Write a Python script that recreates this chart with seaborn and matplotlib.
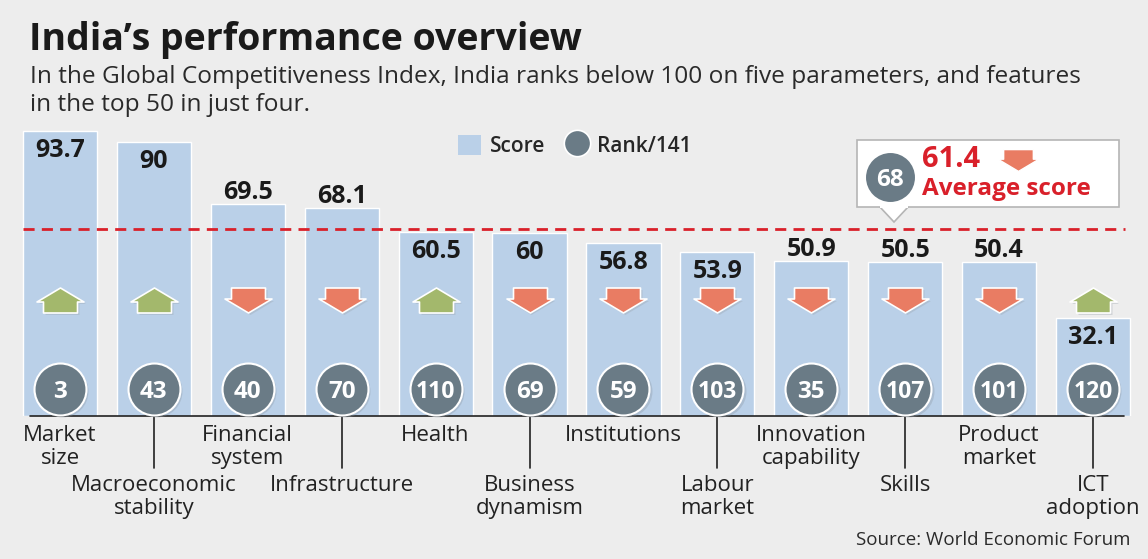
import numpy as np
import seaborn as sns
import matplotlib.pyplot as plt
from matplotlib.path import Path
from matplotlib.patches import Rectangle, Polygon
from matplotlib.lines import Line2D
from matplotlib.patches import Patch

# data
categories = ['Market\nsize', 'Macroeconomic\nstability', 'Financial\nsystem', 'Infrastructure',
              'Health', 'Business\ndynamism', 'Institutions', 'Labour\nmarket',
              'Innovation\ncapability', 'Skills', 'Product\nmarket', 'ICT\nadoption']
scores = [93.7, 90, 69.5, 68.1, 60.5, 60, 56.8, 53.9, 50.9, 50.5, 50.4, 32.1]
ranks = [3, 43, 40, 70, 110, 69, 59, 103, 35, 107, 101, 120]
trend = ['up', 'up', 'down', 'down', 'up', 'down', 'down', 'down', 'down', 'down', 'down', 'up']
avg_score = 61.4
avg_rank = 68
label_inside = [True, True, False, False, True, True, True, True, False, False, False, True]

BG = '#ededed'
BLUE = '#bad0e8'
SLATE = '#6a7b86'
GREEN = '#a3b86c'
ORANGE = '#e97c63'
RED = '#d9202a'

sns.set_theme(style='white')
plt.rcParams['font.family'] = ['Open Sans', 'DejaVu Sans']

W, H = 1148, 559
fig = plt.figure(figsize=(W / 100, H / 100), dpi=100, facecolor=BG)

base_px = 415.5   # baseline, px from top
ppu = 3.04        # px per score unit
ymax = 97
ax = fig.add_axes([13 / W, (H - base_px) / H, 1127 / W, ymax * ppu / H])
ax.set_facecolor('none')

sns.barplot(x=list(range(len(scores))), y=scores, color=BLUE, saturation=1,
            width=0.79, ax=ax, zorder=1)
ax.set_xlim(-0.5, 11.5)
ax.set_ylim(0, ymax)
ax.set_xticks([])
ax.set_yticks([])
ax.set_xlabel('')
ax.set_ylabel('')
sns.despine(ax=ax, left=True, bottom=True)


def u(px):
    return px / ppu


xs = np.arange(len(scores))

# baseline and average line
ax.plot([-0.32, 11.33], [0, 0], color='#222222', lw=1.2, clip_on=False, zorder=2)
ax.hlines(avg_score, -0.39, 11.34, colors=RED, lw=2, linestyles=(0, (4, 2.6)), zorder=2)

# score labels
for x, s, inside in zip(xs, scores, label_inside):
    y = s - u(16.5) if inside else s + u(14.5)
    ax.text(x, y, f'{s:g}', ha='center', va='center_baseline', fontsize=18,
            fontweight='bold', color='#1a1a1a', zorder=4)

# arrows
up_path = Path([(0, 12.5), (23.5, -1.5), (17, -1.5), (17, -12.5), (-17, -12.5),
                (-17, -1.5), (-23.5, -1.5), (0, 12.5)], closed=True)
down_path = Path([(x, -y) for x, y in up_path.vertices], closed=True)
arrow_s = (47 * 0.72) ** 2
for direction, path, col in [('up', up_path, GREEN), ('down', down_path, ORANGE)]:
    idx = [i for i, t in enumerate(trend) if t == direction]
    ax.scatter(xs[idx] + 0.02, [u(base_px - 302)] * len(idx), marker=path, s=arrow_s,
               color='#9aa3ad', alpha=0.35, linewidths=0, zorder=3)
    ax.scatter(xs[idx], [u(base_px - 300)] * len(idx), marker=path, s=arrow_s,
               color=col, edgecolors='white', linewidths=1.2, zorder=3)

# rank circles
circ_y = u(base_px - 388.5)
ax.scatter(xs + 0.025, [circ_y - u(2)] * len(xs), s=1400, color='#8d99a4', alpha=0.35,
           linewidths=0, zorder=3, clip_on=False)
ax.scatter(xs, [circ_y] * len(xs), s=1400, color=SLATE, edgecolors='white',
           linewidths=1.5, zorder=4, clip_on=False)
for x, r in zip(xs, ranks):
    ax.text(x, circ_y, str(r), ha='center', va='center_baseline', color='white',
            fontsize=16.5 if r >= 100 else 17.5, fontweight='bold', zorder=5)

# category labels with leader lines
for i, lab in enumerate(categories):
    lines = lab.split('\n')
    if i % 2 == 1:
        ax.plot([i, i], [0, -u(52.5)], color='#222222', lw=1.2, clip_on=False)
        b0 = 491
    else:
        b0 = 441
    for k, line in enumerate(lines):
        ax.text(i, -u(b0 + 23 * k - base_px), line, ha='center', va='baseline',
                fontsize=16, color='#222222', clip_on=False)

# legend
handles = [Patch(facecolor=BLUE, edgecolor='none'),
           Line2D([], [], marker='o', ls='', markersize=19, markerfacecolor=SLATE,
                  markeredgecolor='white', markeredgewidth=1.2)]
fig.legend(handles, ['Score', 'Rank/141'], loc='center', ncol=2, frameon=False,
           bbox_to_anchor=(575 / W, 1 - 146 / H), handlelength=1.1, handleheight=1.1,
           handletextpad=0.4, columnspacing=1.0,
           prop={'size': 15, 'weight': 'semibold'})

# overlay in pixel coordinates for header and callout
ov = fig.add_axes([0, 0, 1, 1], zorder=10)
ov.set_xlim(0, W)
ov.set_ylim(H, 0)
ov.axis('off')

ov.text(29, 50, 'India\u2019s performance overview', fontsize=27, fontweight='bold',
        color='#1a1a1a', va='baseline')
ov.text(30, 83, 'In the Global Competitiveness Index, India ranks below 100 on five parameters, and features',
        fontsize=17.6, color='#2a2a2a', va='baseline')
ov.text(30, 111, 'in the top 50 in just four.', fontsize=17.6, color='#2a2a2a', va='baseline')
ov.text(1130, 545, 'Source: World Economic Forum', fontsize=13.5, color='#2a2a2a',
        ha='right', va='baseline')

# callout
ov.add_patch(Polygon([(879, 206), (894, 222), (909, 206)], closed=True, facecolor='white',
                     edgecolor='#b5b5b5', lw=1.2, zorder=1))
ov.add_patch(Rectangle((857, 140), 262, 67, facecolor='white', edgecolor='#b5b5b5',
                       lw=1.2, zorder=2))
ov.add_patch(Rectangle((879.6, 205), 28.8, 3, facecolor='white', edgecolor='none', zorder=3))
ov.scatter([890], [177], s=1350, color=SLATE, edgecolors='white', linewidths=1.5, zorder=4)
ov.text(890, 177, str(avg_rank), ha='center', va='center_baseline', color='white',
        fontsize=17.5, fontweight='bold', zorder=5)
ov.text(922, 167, f'{avg_score}', fontsize=21, fontweight='bold', color=RED,
        va='baseline', zorder=5)
ov.text(922, 195, 'Average score', fontsize=17.5, fontweight='bold', color=RED,
        va='baseline', zorder=5)
ov.scatter([1018], [160], marker=down_path, s=(41 * 0.72) ** 2, color=ORANGE,
           edgecolors='white', linewidths=1, zorder=5)

fig.savefig('out.png', dpi=100, facecolor=BG)
